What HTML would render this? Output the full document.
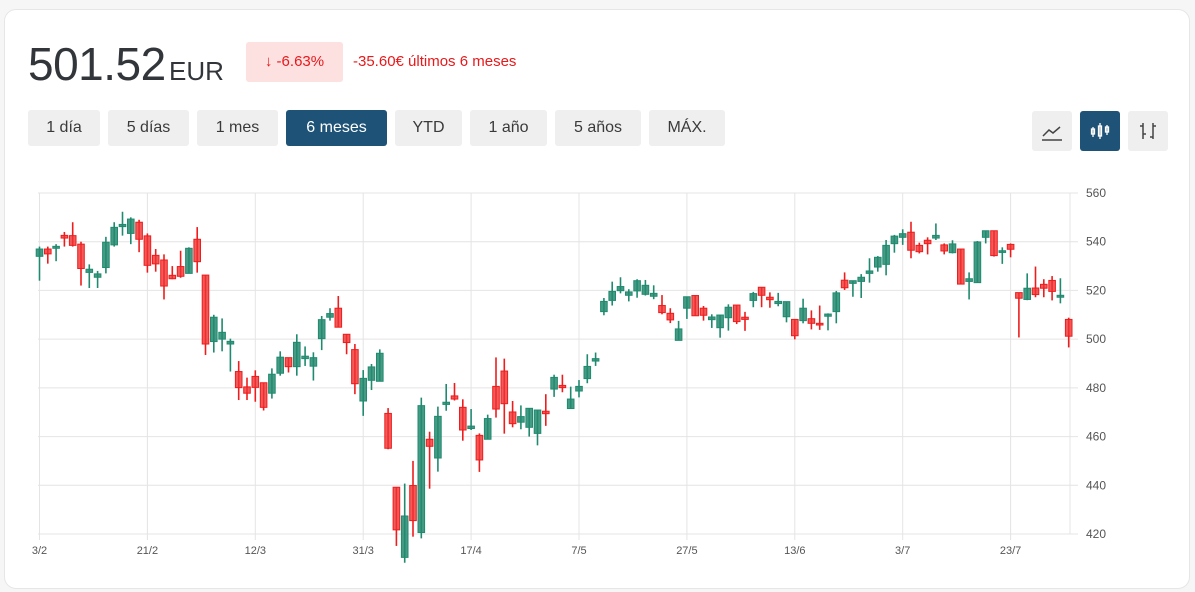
<!DOCTYPE html>
<html><head><meta charset="utf-8">
<style>
body{margin:0;width:1195px;height:592px;background:#f6f6f6;font-family:"Liberation Sans",sans-serif;overflow:hidden}
.card{position:absolute;left:4px;top:9px;width:1184px;height:578px;background:#fff;border:1px solid #e6e6e6;border-radius:12px}
.price{position:absolute;left:28px;top:37px;font-size:46px;color:#32363b;letter-spacing:-0.5px}
.cur{position:absolute;left:169px;top:56px;font-size:26px;color:#32363b}
.badge{position:absolute;left:246px;top:42px;width:97px;height:40px;background:#fde0e0;border-radius:3px;color:#e8191b;font-size:15px;line-height:40px;text-align:center}
.chg{position:absolute;left:353px;top:53px;font-size:15px;color:#e8191b}
.btn{position:absolute;top:110px;height:36px;line-height:36px;background:#efefef;border-radius:3px;color:#3a3a3a;font-size:16px;text-align:center}
.btn.on{background:#1e5276;color:#fff}
.ico{position:absolute;top:111px;width:40px;height:40px;background:#efefef;border-radius:3px}
.ico.on{background:#1e5276}
</style></head><body>
<div class="card"></div>
<div class="price">501.52</div>
<div class="cur">EUR</div>
<div class="badge">↓ -6.63%</div>
<div class="chg">-35.60€ últimos 6 meses</div>
<div class="btn" style="left:28px;width:72px">1 día</div>
<div class="btn" style="left:108px;width:81px">5 días</div>
<div class="btn" style="left:197px;width:81px">1 mes</div>
<div class="btn on" style="left:286px;width:101px">6 meses</div>
<div class="btn" style="left:395px;width:67px">YTD</div>
<div class="btn" style="left:470px;width:77px">1 año</div>
<div class="btn" style="left:555px;width:86px">5 años</div>
<div class="btn" style="left:649px;width:76px">MÁX.</div>
<div class="ico" style="left:1032px"><svg width="40" height="40"><path d="M11 25 L17 19 L21 22 L28 16" stroke="#444" stroke-width="1.5" fill="none"/><line x1="10" y1="29" x2="30" y2="29" stroke="#444" stroke-width="1.5"/></svg></div>
<div class="ico on" style="left:1080px"><svg width="40" height="40"><g stroke="#fff" stroke-width="1.3" fill="none"><line x1="13" y1="16" x2="13" y2="26"/><rect x="11.5" y="18" width="3" height="5"/><line x1="20" y1="12" x2="20" y2="28"/><rect x="18.5" y="15" width="3" height="10"/><line x1="27" y1="14" x2="27" y2="24"/><rect x="25.5" y="16" width="3" height="5"/></g></svg></div>
<div class="ico" style="left:1128px"><svg width="40" height="40"><g stroke="#444" stroke-width="1.5"><line x1="15" y1="12" x2="15" y2="28"/><line x1="12" y1="15" x2="15" y2="15"/><line x1="15" y1="23" x2="18" y2="23"/><line x1="25" y1="12" x2="25" y2="28"/><line x1="22" y1="26" x2="25" y2="26"/><line x1="25" y1="15" x2="28" y2="15"/></g></svg></div>
<svg id="chart" width="1195" height="592" style="position:absolute;left:0;top:0"></svg>
<script>
const opens=[534,537,537.3,542.6,542.5,539,527.4,525.4,529.4,538.7,546.2,543.4,548,542.4,534.4,532.5,526.2,529.8,527,541,526.3,499,500,498,486.7,480.4,484.7,482.1,477.8,486,492.4,488.7,492,488.9,500.2,509,512.7,502,495.7,474.6,483.1,482.7,469.5,439.2,410.4,439.9,420.6,458.9,451.2,473.2,476.7,472,463.3,460.5,458.9,480.6,486.9,470.1,465.9,463.8,461.3,470.4,479.5,481,471.5,478.7,483.8,491,511.3,515.9,519.9,518,519.8,518.4,517.6,513.8,510.6,499.5,512.7,517.9,512.7,508,504.7,508.8,514,509,515.9,521.3,517.2,514.6,509.2,508.1,507.6,508.4,506.5,509.4,511.3,524.2,522.9,523.7,527,529.6,530.7,539.2,541.8,543.9,538.5,540.6,541.5,538.7,535.5,537,523.7,523.2,541.8,544.5,535.6,538.9,519.1,516.3,521,522.5,524.1,517.2,508.1];
const closes=[537,535,538.1,541.5,538.5,529,528.7,526.8,539.8,545.9,547.1,549.3,541,530.3,530.9,521.8,524.8,525.8,537.3,531.8,498,509,502.8,499.1,480.1,477.8,480.2,472,485.6,492.6,488.7,498.7,493,492.4,508,510.5,504.9,498.6,481.7,483.9,488.6,494.2,455.2,421.7,427.4,425.5,472.7,456,468.3,474.1,475.4,462.7,464.3,450.4,467.4,471.3,473.5,465.3,468.2,471.6,470.9,469.4,484.3,480.1,475.4,480.6,488.8,492,515.5,519.6,521.6,519.4,524,522.1,518.8,510.9,507.9,504.2,517.4,509.6,509.8,509.1,509.9,513.1,507.2,508.1,518.7,518,516.2,515.5,515.4,501.4,512.7,506.5,505.8,510.3,519,521.1,524,525.4,528,533.6,538.5,542.3,543.3,536.5,535.9,539.2,542.6,536.2,539.1,522.6,524.8,539.9,544.5,534.3,536.3,536.9,516.8,520.9,518.3,520.9,519.6,518,501.2];
const highs=[538,538,539,544,548,540,530.7,528,542,548,552.3,550,549,543.4,537,534.8,530,536.3,537.7,546,526.3,510,508.5,500.2,491,484.2,487.2,482.1,488,495,492.4,502,497,494.6,509.5,512.7,517.7,502,498,487.3,489.8,495.8,471.7,439.2,440.7,450,476,462,472.3,481.6,482,475.3,471.3,461.3,469,492.5,492,474.6,472.8,471.6,471,477.4,485.4,485.4,480.5,483.2,493.8,494.5,516.9,523.6,525.4,520.5,524.6,524.3,522.1,518.1,512.7,507.5,517.4,518.1,513.6,510.2,509.9,514.3,514,511.2,519.4,521.3,519.2,519,515.4,508.1,516.6,511.8,513.8,510.6,519.8,527.4,524,526.7,533.2,534.1,540.7,542.8,545.1,548.2,539.6,541.8,547.5,539.3,540.6,537,527.4,540.3,544.5,544.5,537.7,539.3,519.1,527,529.8,524.6,525.9,525,508.8];
const lows=[524,531,532,538,538,522,521,521,527,538,542.5,539,535.7,527.3,527.7,516.3,524.6,525.2,527,527.3,493.5,494.5,495,486.7,475,475,474.3,470.7,475.6,485,486.3,485,489,483,495.5,507.6,504.9,493.8,477.4,468.5,479.1,482.7,454.8,415.1,408.2,418.9,418.2,438.6,445.6,470.6,474.8,458.3,462.7,445.5,458.9,467.8,461.2,463.8,463,460,456.4,464.4,476.3,478.2,471.5,476.1,481.9,489,509.8,513.8,518.8,515.5,517,517.9,516.4,510.2,506.6,499.5,508.3,509.6,507.6,504.6,500.6,503.5,506.2,503.4,513.1,513.1,512.9,513.5,506.9,499.9,506.5,504,503.8,503.6,506.5,520.2,517.4,516.9,523.2,527.7,526.2,535.5,538.7,533.2,535.2,534.8,540.7,534.8,535.2,522.6,516.3,523.2,539.3,533.9,530.9,533.6,500.7,516,517.2,517.2,515.9,514.7,496.6];
const xLabels=["3/2","21/2","12/3","31/3","17/4","7/5","27/5","13/6","3/7","23/7"];
const yTicks=[420,440,460,480,500,520,540,560];
const NS="http://www.w3.org/2000/svg";
const svg=document.getElementById('chart');
const L=38,R=1070,T=193,B=534,ymin=420,ymax=560;
const step=8.3,x0=39.5;
const xs=i=>x0+i*step;
const ys=v=>B-(v-ymin)/(ymax-ymin)*(B-T);
function mk(t,a){const e=document.createElementNS(NS,t);for(const k in a)e.setAttribute(k,a[k]);svg.appendChild(e);return e;}
yTicks.forEach(v=>{
 const g=mk('line',{x1:L,x2:R+8,y1:ys(v),y2:ys(v),stroke:'#e4e4e4','stroke-width':1});
 
 
 const t=mk('text',{x:1086,y:ys(v)+4,'font-size':12,fill:'#555','font-family':'Liberation Sans, sans-serif'});
 t.textContent=v;
 
 
});
xLabels.forEach((s,k)=>{
 const x=xs(k*13);
 const g=mk('line',{x1:x,x2:x,y1:T,y2:B+6,stroke:'#e4e4e4','stroke-width':1});
 
 
 const t=mk('text',{x:x,y:B+20,'font-size':11,fill:'#555','text-anchor':'middle','font-family':'Liberation Sans, sans-serif'});
 t.textContent=s;
 
 
});
const ax=mk('line',{x1:R,x2:R,y1:T,y2:B,stroke:'#e4e4e4'});


const bx=mk('line',{x1:L,x2:R,y1:B,y2:B,stroke:'#e4e4e4'});


opens.forEach((o,i)=>{
 const c=closes[i],up=c>=o,col=up?'#1f8a6f':'#ee1c1c',fill=up?'rgba(38,138,112,0.85)':'rgba(240,50,50,0.8)';
 const x=xs(i);
 const w=mk('line',{x1:x,x2:x,y1:ys(highs[i]),y2:ys(lows[i]),stroke:col,'stroke-width':1.6});
 
 
 const top=ys(Math.max(o,c)),h=Math.max(1.5,Math.abs(ys(o)-ys(c)));
 const r=mk('rect',{x:x-3.3,y:top,width:6.6,height:h,fill:fill,stroke:col,'stroke-width':1});
 
 
});
</script>
</body></html>
